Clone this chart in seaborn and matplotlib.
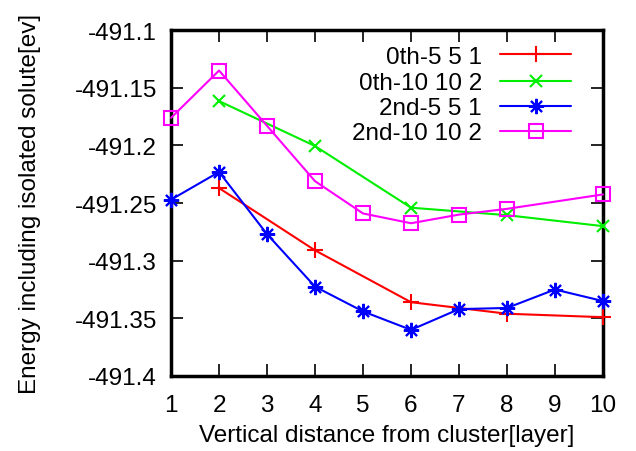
import numpy as np
import pandas as pd
import matplotlib
matplotlib.use("Agg")
import matplotlib.pyplot as plt
import seaborn as sns

# values
x_even = [2, 4, 6, 8, 10]
x_all = [1, 2, 3, 4, 5, 6, 7, 8, 9, 10]
x_mag = [1, 2, 3, 4, 5, 6, 7, 8, 10]

red_0th_551 = [-491.237, -491.291, -491.336, -491.346, -491.349]
green_0th_10102 = [-491.1615, -491.2005, -491.254, -491.2605, -491.270]
blue_2nd_551 = [-491.247, -491.223, -491.277, -491.3225, -491.344,
                -491.360, -491.342, -491.341, -491.325, -491.335]
mag_2nd_10102 = [-491.176, -491.135, -491.183, -491.231, -491.259,
                 -491.2675, -491.260, -491.255, -491.2425]

y_ticks = [-491.4, -491.35, -491.3, -491.25, -491.2, -491.15, -491.1]
y_tick_labels = ["-491.4", "-491.35", "-491.3", "-491.25", "-491.2", "-491.15", "-491.1"]

sns.set_style("ticks")
plt.rcParams["font.family"] = ["Liberation Sans", "DejaVu Sans"]
plt.rcParams["text.color"] = "black"
plt.rcParams["axes.labelcolor"] = "black"
plt.rcParams["xtick.color"] = "black"
plt.rcParams["ytick.color"] = "black"
fs = 17.5

fig = plt.figure(figsize=(6.36, 4.52), dpi=100)
ax = fig.add_axes([0.269, 0.166, 0.679, 0.765])

series = [
    ("0th-5 5 1", x_even, red_0th_551, "#ff0000", "+", 11, "full"),
    ("0th-10 10 2", x_even, green_0th_10102, "#00ee00", "x", 9, "full"),
    ("2nd-5 5 1", x_all, blue_2nd_551, "#0000ff", (8, 2, 0), 11, "full"),
    ("2nd-10 10 2", x_mag, mag_2nd_10102, "#ff00ff", "s", 10, "none"),
]

for name, xs, ys, color, mk, ms, fill in series:
    df = pd.DataFrame({"x": xs, "y": ys})
    sns.lineplot(data=df, x="x", y="y", ax=ax, color=color, lw=1.5,
                 marker=mk, markersize=ms, fillstyle=fill,
                 markeredgewidth=1.5, markeredgecolor=color,
                 clip_on=False, zorder=3)

# gnuplot-style key: right-aligned text, sample line to the right
key_rows = [0.931, 0.854, 0.781, 0.709]
for (name, xs, ys, color, mk, ms, fill), ky in zip(series, key_rows):
    ax.text(0.72, ky, name, transform=ax.transAxes, ha="right",
            va="center_baseline", fontsize=fs, color="black")
    ax.plot([0.762, 0.844, 0.926], [ky, ky, ky], transform=ax.transAxes,
            color=color, lw=1.5, marker=mk, markersize=ms, fillstyle=fill,
            markeredgewidth=1.5, markevery=[1], clip_on=False)

ax.set_xlim(1, 10)
ax.set_ylim(-491.4, -491.1)
ax.set_xticks(x_all)
ax.set_xticklabels([str(v) for v in x_all], fontsize=fs)
ax.set_yticks(y_ticks)
ax.set_yticklabels(y_tick_labels, fontsize=fs)
ax.tick_params(direction="in", length=8.5, width=1.2, top=True, right=True,
               color="black", labelcolor="black")
ax.tick_params(axis="x", pad=13)
ax.tick_params(axis="y", pad=10)
for s in ax.spines.values():
    s.set_visible(True)
    s.set_linewidth(2.5)
    s.set_color("black")

ax.set_xlabel("Vertical distance from cluster[layer]", fontsize=fs, labelpad=6,
              color="black")
ax.set_ylabel("Energy including isolated solute[ev]", fontsize=fs, labelpad=24,
              color="black")

fig.savefig("out.png", dpi=100)
